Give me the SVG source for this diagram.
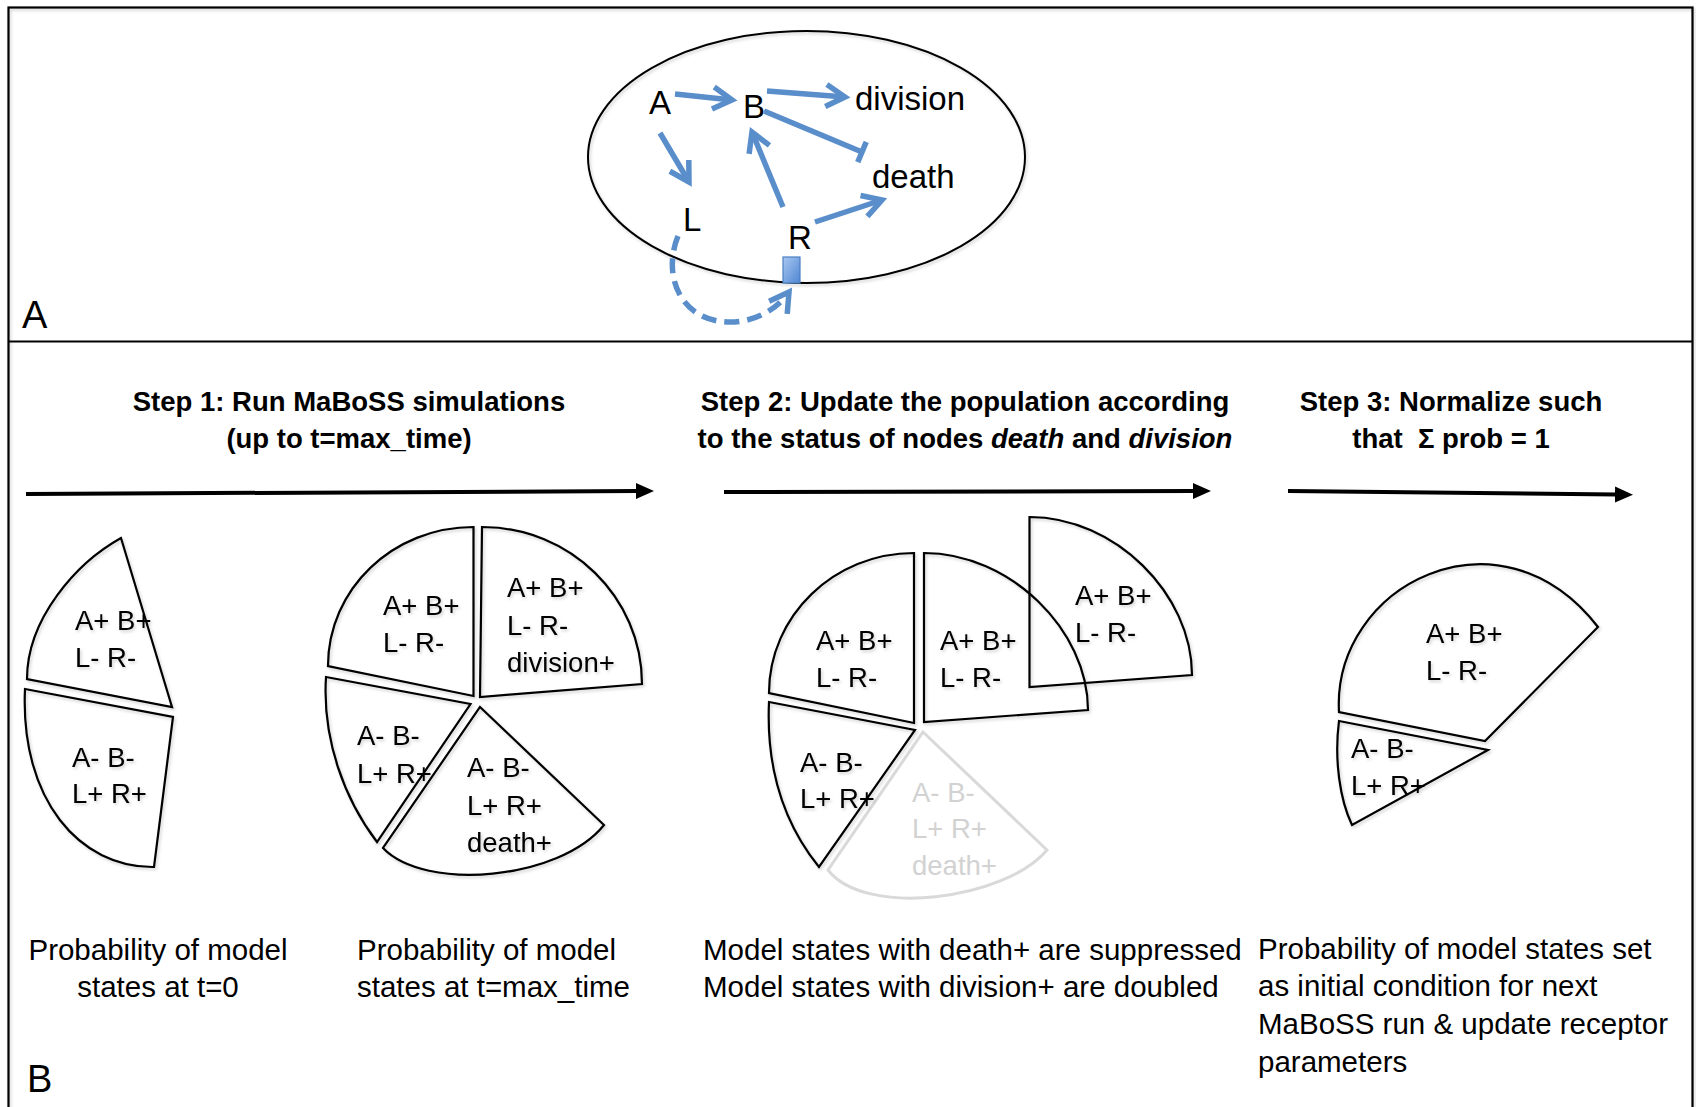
<svg xmlns="http://www.w3.org/2000/svg" width="1696" height="1107" viewBox="0 0 1696 1107">
<style>
.frame{fill:none;stroke:#000;stroke-width:2.2}
.slice{fill:none;stroke:#000;stroke-width:2.2;stroke-linejoin:miter}
.faded{fill:none;stroke:#d9d9d9;stroke-width:3}
.pt{font-family:"Liberation Sans",Arial,sans-serif;font-size:27.5px;fill:#000}
.ptf{font-family:"Liberation Sans",Arial,sans-serif;font-size:27.5px;fill:#d2d2d2}
.net{font-family:"Liberation Sans",Arial,sans-serif;font-size:33px;fill:#000}
.lbl{font-family:"Liberation Sans",Arial,sans-serif;font-size:38px;fill:#000}
.head{font-family:"Liberation Sans",Arial,sans-serif;font-size:27.5px;font-weight:bold;fill:#000;text-anchor:middle}
.cap{font-family:"Liberation Sans",Arial,sans-serif;font-size:29.5px;fill:#000}
.blue{fill:none;stroke:#5a8ecb;stroke-width:5.5}
.step{fill:none;stroke:#000;stroke-width:4}
</style>
<defs>
<filter id="sh" x="-5%" y="-5%" width="110%" height="110%">
<feDropShadow dx="1.5" dy="2" stdDeviation="1.5" flood-color="#000" flood-opacity="0.18"/>
</filter>
<marker id="chev" viewBox="-26 -15 32 30" refX="0" refY="0" markerWidth="32" markerHeight="30" markerUnits="userSpaceOnUse" orient="auto">
<path d="M-19,-11 L0,0 L-19,11" fill="none" stroke="#5a8ecb" stroke-width="5.5"/>
</marker>
<marker id="tee" viewBox="-4 -14 8 28" refX="0" refY="0" markerWidth="8" markerHeight="28" markerUnits="userSpaceOnUse" orient="auto">
<path d="M0,-11 L0,11" fill="none" stroke="#5a8ecb" stroke-width="5.5"/>
</marker>
<marker id="tri" viewBox="0 -9 20 18" refX="2" refY="0" markerWidth="20" markerHeight="18" markerUnits="userSpaceOnUse" orient="auto">
<path d="M0,-8 L18,0 L0,8 Z" fill="#000"/>
</marker>
<linearGradient id="rg" x1="0" y1="0" x2="1" y2="1">
<stop offset="0" stop-color="#a9c8f2"/>
<stop offset="1" stop-color="#4f86d2"/>
</linearGradient>
</defs>
<rect width="1696" height="1107" fill="#fff"/>

<g id="frame">
<rect class="frame" x="8.5" y="7.5" width="1684" height="1120" filter="url(#sh)"/>
<line class="frame" x1="8.5" y1="341.5" x2="1692.5" y2="341.5"/>
<text class="lbl" x="22" y="328">A</text>
<text class="lbl" x="27" y="1092">B</text>
</g>

<g id="cell">
<ellipse cx="806.5" cy="157" rx="218.5" ry="126" fill="none" stroke="#000" stroke-width="2" filter="url(#sh)"/>
</g>
<g id="node-A"><text class="net" x="649" y="114">A</text></g>
<g id="node-B"><text class="net" x="743" y="118">B</text></g>
<g id="node-division"><text class="net" x="855" y="110">division</text></g>
<g id="node-death"><text class="net" x="872" y="188">death</text></g>
<g id="node-L"><text class="net" x="683" y="231">L</text></g>
<g id="node-R"><text class="net" x="788" y="249">R</text></g>
<g id="receptor"><rect x="783" y="257" width="17" height="26" fill="url(#rg)" stroke="#4a7fc4" stroke-width="1.2"/></g>

<g id="connectors">
<path class="blue" d="M675,94 L732,100" marker-end="url(#chev)"/>
<path class="blue" d="M767,91 L845,97" marker-end="url(#chev)"/>
<path class="blue" d="M764,111 L862,152" marker-end="url(#tee)"/>
<path class="blue" d="M660,133 L689,182" marker-end="url(#chev)"/>
<path class="blue" d="M783,207 L752,132" marker-end="url(#chev)"/>
<path class="blue" d="M815,222 L882,200" marker-end="url(#chev)"/>
<path class="blue" d="M678,236 C662,275 680,322 730,322 C760,322 780,305 789,292" stroke-dasharray="15 8" marker-end="url(#chev)"/>
<path class="step" d="M26,494 L638,491" marker-end="url(#tri)"/>
<path class="step" d="M724,492 L1195,491" marker-end="url(#tri)"/>
<path class="step" d="M1288,491 L1617,494.5" marker-end="url(#tri)"/>
</g>

<g id="headings">
<text class="head" x="349" y="411">Step 1: Run MaBoSS simulations</text>
<text class="head" x="349" y="448">(up to t=max_time)</text>
<text class="head" x="965" y="411">Step 2: Update the population according</text>
<text class="head" x="965" y="448">to the status of nodes <tspan font-style="italic">death</tspan> and <tspan font-style="italic">division</tspan></text>
<text class="head" x="1451" y="411">Step 3: Normalize such</text>
<text class="head" x="1451" y="448" style="white-space:pre">that  Σ prob = 1</text>
</g>

<g id="pie-t0" filter="url(#sh)">
<g id="p1-ab"><path class="slice" d="M121,538 C76,563 27,619 27,679 L172,707 Z"/>
<text class="pt" x="75" y="630">A+ B+</text><text class="pt" x="75" y="667">L- R-</text></g>
<g id="p1-lr"><path class="slice" d="M25,689 L173,717 L154,867 C80,868 20,800 25,689 Z"/>
<text class="pt" x="72" y="767">A- B-</text><text class="pt" x="72" y="803">L+ R+</text></g>
</g>

<g id="pie-tmax" filter="url(#sh)">
<g id="p2-ab"><path class="slice" d="M473.5,527 L473.5,696 L328,666 C328,589 393,527 473.5,527 Z"/>
<text class="pt" x="383" y="615">A+ B+</text><text class="pt" x="383" y="652">L- R-</text></g>
<g id="p2-div"><path class="slice" d="M482,527 L480,697 L642,684 C642,597 570,527 482,527 Z"/>
<text class="pt" x="507" y="597">A+ B+</text><text class="pt" x="507" y="635">L- R-</text><text class="pt" x="507" y="672">division+</text></g>
<g id="p2-lr"><path class="slice" d="M326,677 L470.5,704 L377,842 C345,800 322,740 326,677 Z"/>
<text class="pt" x="357" y="745">A- B-</text><text class="pt" x="357" y="783">L+ R+</text></g>
<g id="p2-death"><path class="slice" d="M480,707 L604,825 C560,880 425,892 383,848 Z"/>
<text class="pt" x="467" y="777">A- B-</text><text class="pt" x="467" y="815">L+ R+</text><text class="pt" x="467" y="852">death+</text></g>
</g>

<g id="pie-update">
<g id="p3-death"><path class="faded" d="M923,732 L1047,850 C1005,900 865,918 828,870 Z"/>
<text class="ptf" x="912" y="802">A- B-</text><text class="ptf" x="912" y="838">L+ R+</text><text class="ptf" x="912" y="875">death+</text></g>
<g filter="url(#sh)">
<g id="p3-ab"><path class="slice" d="M914,553 L914,723 L769,693 C769,616 834,553 914,553 Z"/>
<text class="pt" x="816" y="650">A+ B+</text><text class="pt" x="816" y="687">L- R-</text></g>
<g id="p3-lr"><path class="slice" d="M769,702 L915,730 L819,867 C785,825 766,770 769,702 Z"/>
<text class="pt" x="800" y="772">A- B-</text><text class="pt" x="800" y="808">L+ R+</text></g>
<g id="p3-div1"><path class="slice" d="M924,553 L924,722 L1088,710 C1088,630 1010,553 924,553 Z"/>
<text class="pt" x="940" y="650">A+ B+</text><text class="pt" x="940" y="687">L- R-</text></g>
<g id="p3-div2"><path class="slice" d="M1029.5,517 L1029.5,687 L1192,675 C1192,594 1115,517 1029.5,517 Z"/>
<text class="pt" x="1075" y="605">A+ B+</text><text class="pt" x="1075" y="642">L- R-</text></g>
</g>
</g>

<g id="pie-norm" filter="url(#sh)">
<g id="p4-ab"><path class="slice" d="M1339,712 C1332,585 1500,500 1598,627 L1485,741 Z"/>
<text class="pt" x="1426" y="643">A+ B+</text><text class="pt" x="1426" y="680">L- R-</text></g>
<g id="p4-lr"><path class="slice" d="M1339,721 L1488,750 L1352,825 C1340,800 1334,760 1339,721 Z"/>
<text class="pt" x="1351" y="758">A- B-</text><text class="pt" x="1351" y="795">L+ R+</text></g>
</g>

<g id="captions">
<text class="cap" x="158" y="960" text-anchor="middle">Probability of model</text>
<text class="cap" x="158" y="997" text-anchor="middle">states at t=0</text>
<text class="cap" x="357" y="960">Probability of model</text>
<text class="cap" x="357" y="997">states at t=max_time</text>
<text class="cap" x="703" y="960">Model states with death+ are suppressed</text>
<text class="cap" x="703" y="997">Model states with division+ are doubled</text>
<text class="cap" x="1258" y="959">Probability of model states set</text>
<text class="cap" x="1258" y="996">as initial condition for next</text>
<text class="cap" x="1258" y="1034">MaBoSS run &amp; update receptor</text>
<text class="cap" x="1258" y="1072">parameters</text>
</g>
</svg>
